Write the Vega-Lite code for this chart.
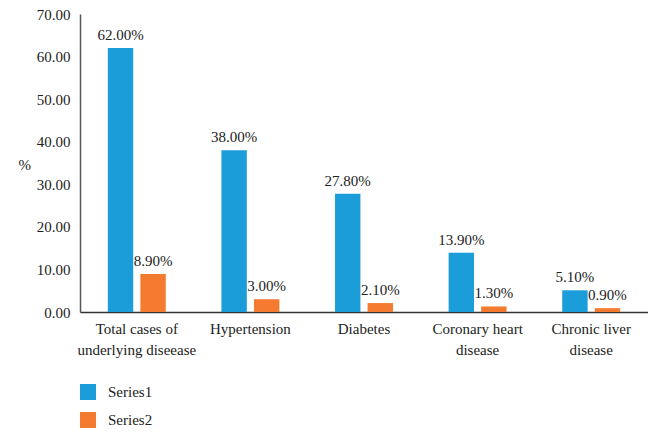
{
  "$schema": "https://vega.github.io/schema/vega-lite/v6.json",
  "width": 568,
  "height": 298,
  "autosize": {"type": "none"},
  "padding": {"left": 80, "top": 14, "right": 0, "bottom": 120},
  "background": "white",
  "config": {
    "view": {"stroke": null},
    "font": "Liberation Serif",
    "axis": {"labelFont": "Liberation Serif", "titleFont": "Liberation Serif"},
    "legend": {"labelFont": "Liberation Serif"},
    "text": {"font": "Liberation Serif"}
  },
  "data": {
    "values": [
      {"category": "Total cases of underlying diseease", "series": "Series1", "value": 62.0},
      {"category": "Total cases of underlying diseease", "series": "Series2", "value": 8.9},
      {"category": "Hypertension", "series": "Series1", "value": 38.0},
      {"category": "Hypertension", "series": "Series2", "value": 3.0},
      {"category": "Diabetes", "series": "Series1", "value": 27.8},
      {"category": "Diabetes", "series": "Series2", "value": 2.1},
      {"category": "Coronary heart disease", "series": "Series1", "value": 13.9},
      {"category": "Coronary heart disease", "series": "Series2", "value": 1.3},
      {"category": "Chronic liver disease", "series": "Series1", "value": 5.1},
      {"category": "Chronic liver disease", "series": "Series2", "value": 0.9}
    ]
  },
  "transform": [
    {"calculate": "format(datum.value, '.2f') + '%'", "as": "label"}
  ],
  "encoding": {
    "x": {
      "field": "category",
      "type": "nominal",
      "sort": null,
      "scale": {"paddingInner": 0.49, "paddingOuter": 0.245},
      "axis": {
        "title": null,
        "labelAngle": 0,
        "ticks": false,
        "domainColor": "#333333",
        "domainWidth": 1.5,
        "labelFont": "Liberation Serif",
        "labelFontSize": 15,
        "labelColor": "#222222",
        "labelPadding": 9,
        "labelLineHeight": 21,
        "labelExpr": "datum.label == 'Total cases of underlying diseease' ? ['Total cases of','underlying diseease'] : datum.label == 'Coronary heart disease' ? ['Coronary heart','disease'] : datum.label == 'Chronic liver disease' ? ['Chronic liver','disease'] : datum.label"
      }
    },
    "xOffset": {
      "field": "series",
      "type": "nominal",
      "scale": {"paddingInner": 0.22, "paddingOuter": 0}
    },
    "y": {
      "field": "value",
      "type": "quantitative",
      "scale": {"domain": [0, 70]},
      "axis": {
        "title": "%",
        "titleAngle": 0,
        "titleFont": "Liberation Serif",
        "titleFontWeight": "normal",
        "titleFontSize": 15,
        "titleColor": "#222222",
        "titleX": -62,
        "titleY": 150,
        "titleAlign": "left",
        "titleBaseline": "middle",
        "values": [0, 10, 20, 30, 40, 50, 60, 70],
        "format": ".2f",
        "grid": false,
        "ticks": false,
        "domainColor": "#555555",
        "domainWidth": 1.5,
        "labelFont": "Liberation Serif",
        "labelFontSize": 15,
        "labelColor": "#222222",
        "labelPadding": 10
      }
    }
  },
  "layer": [
    {
      "mark": {"type": "bar"},
      "encoding": {
        "color": {
          "field": "series",
          "type": "nominal",
          "scale": {"domain": ["Series1", "Series2"], "range": ["#1b9dd9", "#f47a30"]},
          "legend": {
            "title": null,
            "orient": "none",
            "legendX": 0,
            "legendY": 370,
            "direction": "vertical",
            "symbolType": "square",
            "symbolSize": 256,
            "symbolStrokeWidth": 0,
            "symbolOpacity": 1,
            "labelFont": "Liberation Serif",
            "labelFontSize": 15,
            "labelColor": "#222222",
            "labelOffset": 12,
            "rowPadding": 12,
            "padding": 0
          }
        }
      }
    },
    {
      "mark": {"type": "text", "baseline": "bottom", "dy": -5, "font": "Liberation Serif", "fontSize": 15, "color": "#222222"},
      "encoding": {
        "text": {"field": "label"}
      }
    }
  ]
}
